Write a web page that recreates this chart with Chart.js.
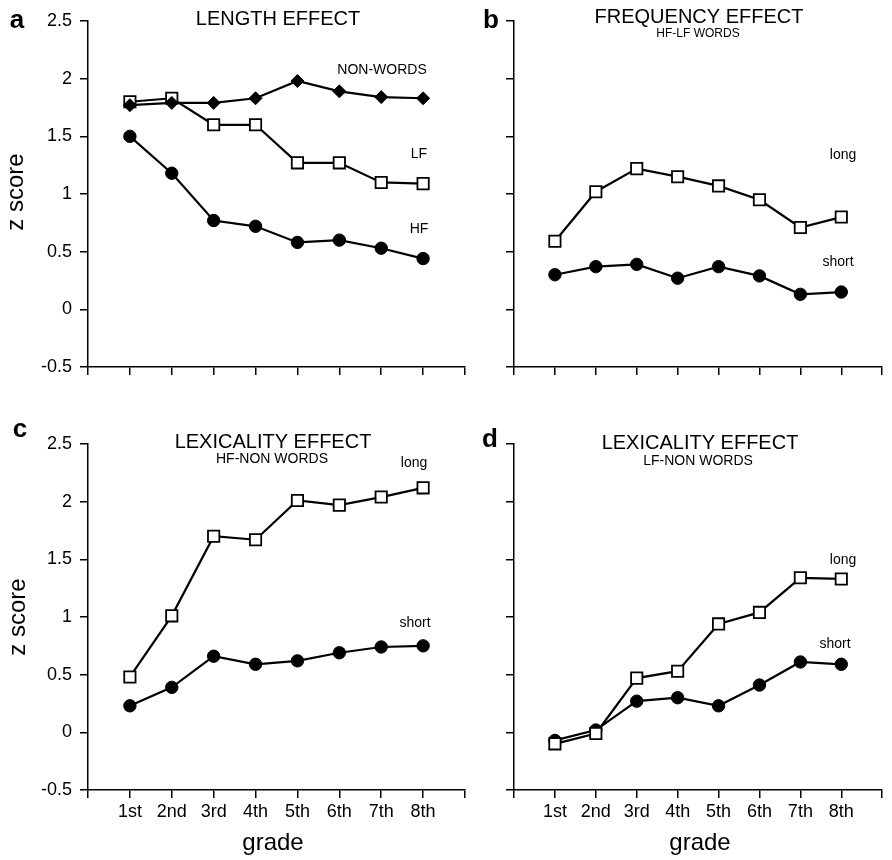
<!DOCTYPE html>
<html>
<head>
<meta charset="utf-8">
<script src="https://cdn.jsdelivr.net/npm/chart.js@4.4.0/dist/chart.umd.min.js"></script>
<style>
  html, body { margin: 0; padding: 0; background: #fff; }
  body { width: 892px; height: 860px; position: relative; overflow: hidden; }
  canvas { position: absolute; }
</style>
</head>
<body>
<canvas id="panelA" width="480" height="420" style="left:0;top:0"></canvas>
<canvas id="panelB" width="452" height="420" style="left:440px;top:0"></canvas>
<canvas id="panelC" width="480" height="460" style="left:0;top:400px"></canvas>
<canvas id="panelD" width="452" height="460" style="left:440px;top:400px"></canvas>
<script>
// grades on the x axis
const grades = ['1st', '2nd', '3rd', '4th', '5th', '6th', '7th', '8th'];
const yTickValues = [-0.5, 0, 0.5, 1, 1.5, 2, 2.5];

// a - length effect
const lengthNonWords = [1.77, 1.79, 1.79, 1.83, 1.98, 1.89, 1.84, 1.83];
const lengthLF = [1.80, 1.83, 1.60, 1.60, 1.27, 1.27, 1.10, 1.09];
const lengthHF = [1.50, 1.18, 0.77, 0.72, 0.58, 0.60, 0.53, 0.44];

// b - frequency effect (HF-LF words)
const freqLong = [0.59, 1.02, 1.22, 1.15, 1.07, 0.95, 0.71, 0.80];
const freqShort = [0.30, 0.37, 0.39, 0.27, 0.37, 0.29, 0.13, 0.15];

// c - lexicality effect (HF-non words)
const lexHFLong = [0.48, 1.01, 1.70, 1.67, 2.01, 1.97, 2.04, 2.12];
const lexHFShort = [0.23, 0.39, 0.66, 0.59, 0.62, 0.69, 0.74, 0.75];

// d - lexicality effect (LF-non words)
const lexLFLong = [-0.10, -0.01, 0.47, 0.53, 0.94, 1.04, 1.34, 1.33];
const lexLFShort = [-0.07, 0.02, 0.27, 0.30, 0.23, 0.41, 0.61, 0.59];

const FONT = '"Liberation Sans", Arial, Helvetica, sans-serif';

const markers = {
  circle: { pointStyle: 'circle', pointRadius: 6.2, pointBackgroundColor: '#000', pointBorderColor: '#000', pointBorderWidth: 1 },
  square: { pointStyle: 'rect', pointRadius: 8, pointBackgroundColor: '#fff', pointBorderColor: '#000', pointBorderWidth: 1.8 },
  diamond: { pointStyle: 'rectRot', pointRadius: 6.5, pointBackgroundColor: '#000', pointBorderColor: '#000', pointBorderWidth: 1 }
};

function series(values, marker) {
  return Object.assign({
    data: values.map((v, i) => ({ x: i + 1, y: v })),
    borderColor: '#000',
    borderWidth: 2.2,
    fill: false,
    tension: 0
  }, markers[marker]);
}

// draws titles, panel letters and series labels
const textPlugin = {
  id: 'panelText',
  afterDraw(chart, args, opts) {
    const ctx = chart.ctx;
    ctx.save();
    ctx.fillStyle = '#000';
    opts.items.forEach(t => {
      ctx.save();
      ctx.font = t.font;
      ctx.textAlign = t.align || 'center';
      ctx.textBaseline = 'alphabetic';
      ctx.translate(t.x - opts.ox, t.y - opts.oy);
      if (t.rotate) ctx.rotate(t.rotate);
      ctx.fillText(t.text, 0, 0);
      ctx.restore();
    });
    ctx.restore();
  }
};

function makePanel(id, datasets, o) {
  new Chart(document.getElementById(id), {
    type: 'line',
    data: { datasets: datasets },
    plugins: [textPlugin],
    options: {
      responsive: false,
      animation: false,
      devicePixelRatio: 1,
      layout: { padding: { left: 0, top: o.padTop, right: o.padRight, bottom: 0 } },
      scales: {
        x: {
          type: 'linear',
          min: 0,
          max: 9,
          border: { display: true, color: '#000', width: 1.5 },
          grid: { drawOnChartArea: false, drawTicks: true, tickLength: 8, color: '#000', lineWidth: 1.5 },
          ticks: {
            stepSize: 1,
            autoSkip: false,
            maxRotation: 0,
            padding: 3,
            color: '#000',
            font: { family: FONT, size: 18 },
            callback: v => (o.xLabels ? (grades[v - 1] || '') : '')
          },
          afterFit: s => { s.height = o.xHeight; }
        },
        y: {
          min: -0.5,
          max: 2.5,
          border: { display: true, color: '#000', width: 1.5 },
          grid: { drawOnChartArea: false, drawTicks: true, tickLength: 8, color: '#000', lineWidth: 1.5 },
          afterBuildTicks: s => { s.ticks = yTickValues.map(v => ({ value: v })); },
          ticks: {
            padding: 8,
            color: '#000',
            font: { family: FONT, size: 18 },
            callback: v => (o.yLabels ? String(v) : '')
          },
          afterFit: s => { s.width = o.yWidth; }
        }
      },
      plugins: {
        legend: { display: false },
        tooltip: { enabled: false },
        panelText: { items: o.texts, ox: o.ox, oy: o.oy }
      }
    }
  });
}

const fTitle = '20px ' + FONT;
const fSub = '12px ' + FONT;
const fSub2 = '14px ' + FONT;
const fLab = '14px ' + FONT;
const fLetter = 'bold 26px ' + FONT;
const fAxis = '24px ' + FONT;

makePanel('panelA', [
  series(lengthNonWords, 'diamond'),
  series(lengthLF, 'square'),
  series(lengthHF, 'circle')
], {
  ox: 0, oy: 0, padTop: 21, padRight: 15, xHeight: 53, yWidth: 88, xLabels: false, yLabels: true,
  texts: [
    { text: 'a', x: 17, y: 28, font: fLetter },
    { text: 'LENGTH EFFECT', x: 278, y: 25, font: fTitle },
    { text: 'NON-WORDS', x: 382, y: 74, font: fLab },
    { text: 'LF', x: 419, y: 158, font: fLab },
    { text: 'HF', x: 419, y: 233, font: fLab },
    { text: 'z score', x: 23, y: 192, font: fAxis, rotate: -Math.PI / 2 }
  ]
});

makePanel('panelB', [
  series(freqLong, 'square'),
  series(freqShort, 'circle')
], {
  ox: 440, oy: 0, padTop: 21, padRight: 1, xHeight: 53, yWidth: 74, xLabels: false, yLabels: false,
  texts: [
    { text: 'b', x: 491, y: 28, font: fLetter },
    { text: 'FREQUENCY EFFECT', x: 699, y: 23, font: fTitle },
    { text: 'HF-LF WORDS', x: 698, y: 37, font: fSub },
    { text: 'long', x: 843, y: 159, font: fLab },
    { text: 'short', x: 838, y: 266, font: fLab }
  ]
});

makePanel('panelC', [
  series(lexHFLong, 'square'),
  series(lexHFShort, 'circle')
], {
  ox: 0, oy: 400, padTop: 44, padRight: 15, xHeight: 70, yWidth: 88, xLabels: true, yLabels: true,
  texts: [
    { text: 'c', x: 20, y: 437, font: fLetter },
    { text: 'LEXICALITY EFFECT', x: 273, y: 448, font: fTitle },
    { text: 'HF-NON WORDS', x: 272, y: 463, font: fSub2 },
    { text: 'long', x: 414, y: 467, font: fLab },
    { text: 'short', x: 415, y: 627, font: fLab },
    { text: 'z score', x: 25, y: 617, font: fAxis, rotate: -Math.PI / 2 },
    { text: 'grade', x: 273, y: 850, font: fAxis }
  ]
});

makePanel('panelD', [
  series(lexLFLong, 'square'),
  series(lexLFShort, 'circle')
], {
  ox: 440, oy: 400, padTop: 44, padRight: 1, xHeight: 70, yWidth: 74, xLabels: true, yLabels: false,
  texts: [
    { text: 'd', x: 490, y: 447, font: fLetter },
    { text: 'LEXICALITY EFFECT', x: 700, y: 449, font: fTitle },
    { text: 'LF-NON WORDS', x: 698, y: 465, font: fSub2 },
    { text: 'long', x: 843, y: 564, font: fLab },
    { text: 'short', x: 835, y: 648, font: fLab },
    { text: 'grade', x: 700, y: 850, font: fAxis }
  ]
});
</script>
</body>
</html>
